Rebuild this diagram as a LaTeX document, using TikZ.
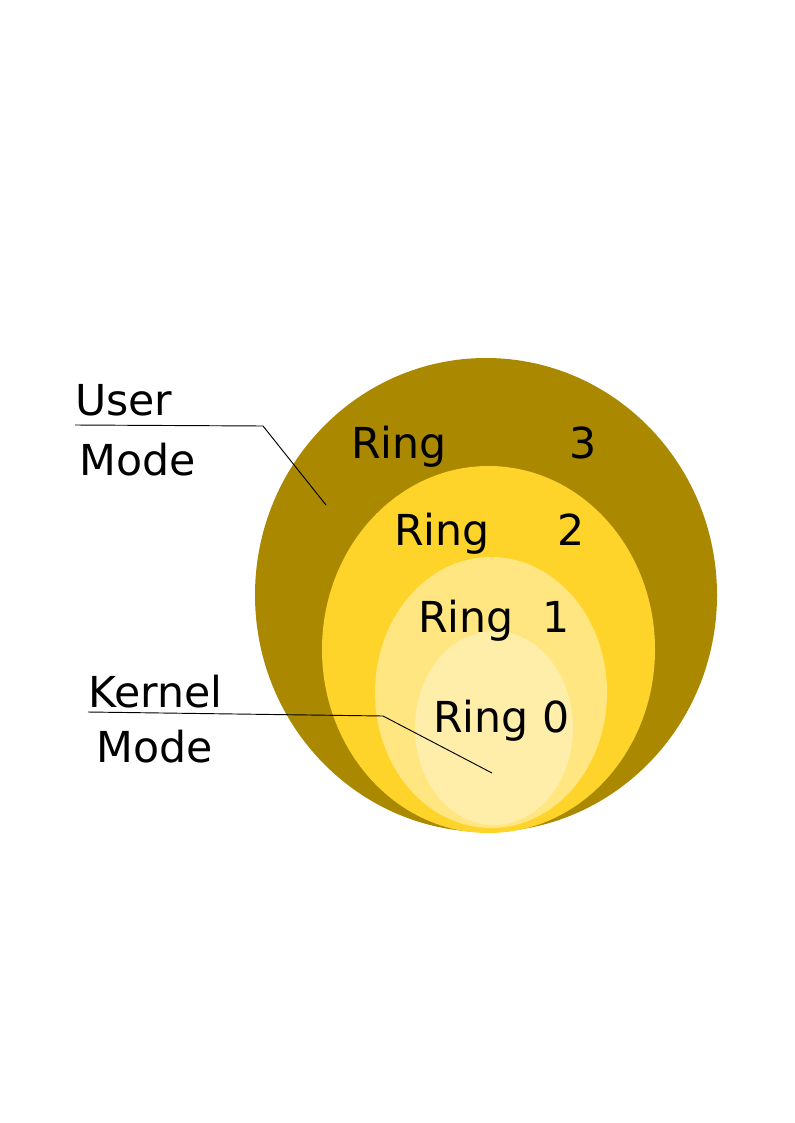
\documentclass[tikz,border=0pt]{standalone}
\usepackage{fontspec}
\setmainfont{DejaVu Sans}
\usepackage{tikz}

\definecolor{ringthree}{HTML}{AA8800}
\definecolor{ringtwo}{HTML}{FFD42A}
\definecolor{ringone}{HTML}{FFE680}
\definecolor{ringzero}{HTML}{FFEEAA}

\tikzset{
  lbl/.style={anchor=base west, inner sep=0pt, font=\fontsize{32}{38}\selectfont},
  pointer/.style={line width=0.7pt, black}
}

\begin{document}
\begin{tikzpicture}[x=0.75pt, y=-0.75pt]

                        \useasboundingbox (0,0) rectangle (794,1123);
                        \fill[ringthree] (486,595) ellipse (231 and 237);
                        \fill[ringtwo] (488.5,649.5) ellipse (166.5 and 183.5);
                        \fill[ringone] (491,692.5) ellipse (116 and 135.5);
                        \fill[ringzero] (494,728) ellipse (79 and 97);

                        \node[lbl] (r3) at (351,458) {Ring};
                        \node[lbl] (r3n) at (569,458) {3};
                        \node[lbl] (r2) at (394,545) {Ring};
                        \node[lbl] (r2n) at (557,545) {2};
                        \node[lbl] (r1) at (418,632) {Ring};
                        \node[lbl] (r1n) at (542,632) {1};
                        \node[lbl] (r0) at (433,732) {Ring 0};

                        \node[lbl] (user) at (75,415) {User};
                        \node[lbl] (umode) at (79,475) {Mode};
                        \node[lbl] (kernel) at (88,707) {Kernel};
                        \node[lbl] (kmode) at (96,762) {Mode};

                        \coordinate (ua) at (75,425);
                        \coordinate (ub) at (263,426);
                        \coordinate (uc) at (326,505);
                        \coordinate (ka) at (88,712);
                        \coordinate (kb) at (383,716);
                        \coordinate (kc) at (492,773);
                        \draw[pointer] (ua) -- (ub) -- (uc);
                        \draw[pointer] (ka) -- (kb) -- (kc);

                    \end{tikzpicture}
\end{document}
